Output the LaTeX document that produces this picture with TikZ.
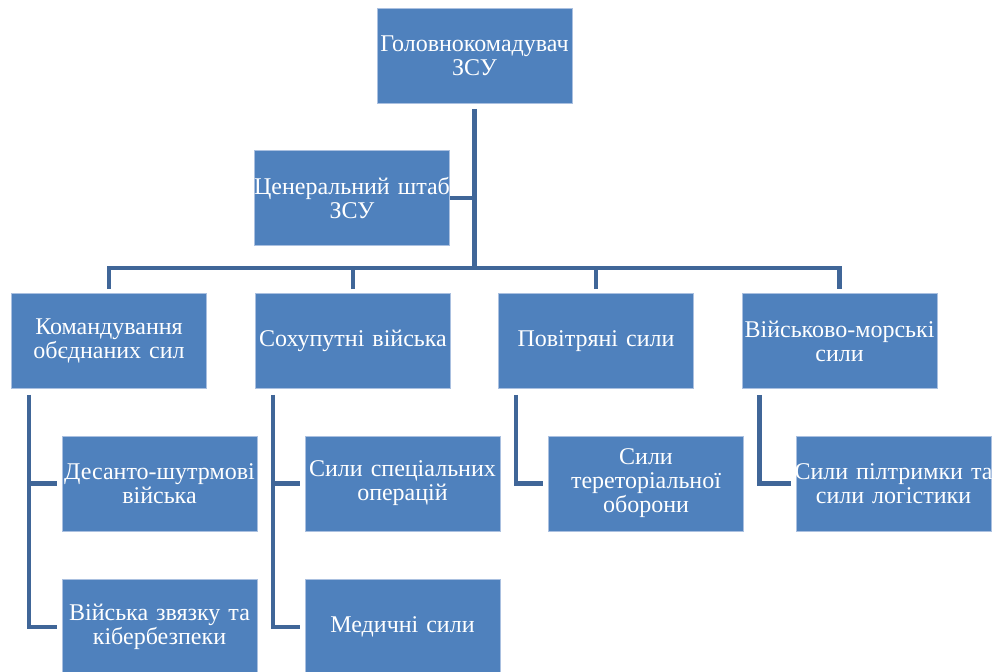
\documentclass[tikz,border=0pt]{standalone}
\usepackage{fontspec}
\setmainfont{Liberation Serif}
\newfontfamily\unitfont{Liberation Serif}
\usetikzlibrary{positioning}
\definecolor{boxblue}{RGB}{79,129,189}
\definecolor{boxedge}{RGB}{170,192,224}
\definecolor{linkblue}{RGB}{64,102,152}
\begin{document}
\begin{tikzpicture}[x=1pt,y=-1pt]

\tikzset{unit/.style={
    fill=boxblue, draw=boxedge, line width=0.8pt,
    minimum width=195pt, minimum height=95pt,
    text width=207pt, align=center, inner ysep=0pt, inner xsep=-6pt,
    text=white, font=\unitfont\fontsize{24}{24}\selectfont
  },
  link/.style={draw=linkblue, line width=4.5pt}
}

\useasboundingbox (0,0) rectangle (994,672);

% top level
\node[unit] (chief) at (474.5,56) {Головнокомадувач\\ЗСУ};
\node[unit] (staff) at (352,198) {Ценеральний штаб\\ЗСУ};

% branches
\node[unit] (joint) at (109,341) {Командування\\обєднаних сил};
\node[unit] (land) at (353,341) {Сохупутні війська};
\node[unit] (air) at (596,341) {Повітряні сили};
\node[unit] (navy) at (839.5,341) {Військово-морські\\сили};

% sub units
\node[unit] (assault) at (159.5,483.5) {Десанто-шутрмові\\війська};
\node[unit] (signal) at (159.5,627) {Війська звязку та\\кібербезпеки};
\node[unit] (special) at (402.5,483.5) {Сили спеціальних\\операцій};
\node[unit] (medic) at (402.5,627) {Медичні сили};
\node[unit] (terr) at (646,483.5) {Сили\\тереторіальної\\оборони};
\node[unit] (support) at (893.5,483.5) {Сили пілтримки та\\сили логістики};

\coordinate (bus) at (474.5,268);

\draw[link] ([yshift=-5pt]chief.south) -- (chief |- bus);
\draw[link] (staff.east) -- (staff -| chief);
\draw[link] ([yshift=4pt]joint.north) -- (joint |- bus) -- (navy |- bus) -- ([yshift=4pt]navy.north);
\draw[link] ([yshift=4pt]land.north) -- (land |- bus);
\draw[link] ([yshift=4pt]air.north) -- (air |- bus);

\draw[link, shorten >=5pt] ([xshift=18pt,yshift=-6pt]joint.south west) |- (assault.west);
\draw[link, shorten >=5pt] ([xshift=18pt,yshift=-6pt]joint.south west) |- (signal.west);
\draw[link, shorten >=5pt] ([xshift=18pt,yshift=-6pt]land.south west) |- (special.west);
\draw[link, shorten >=5pt] ([xshift=18pt,yshift=-6pt]land.south west) |- (medic.west);
\draw[link, shorten >=5pt] ([xshift=18pt,yshift=-6pt]air.south west) |- (terr.west);
\draw[link, shorten >=5pt] ([xshift=18pt,yshift=-6pt]navy.south west) |- (support.west);

\end{tikzpicture}
\end{document}
